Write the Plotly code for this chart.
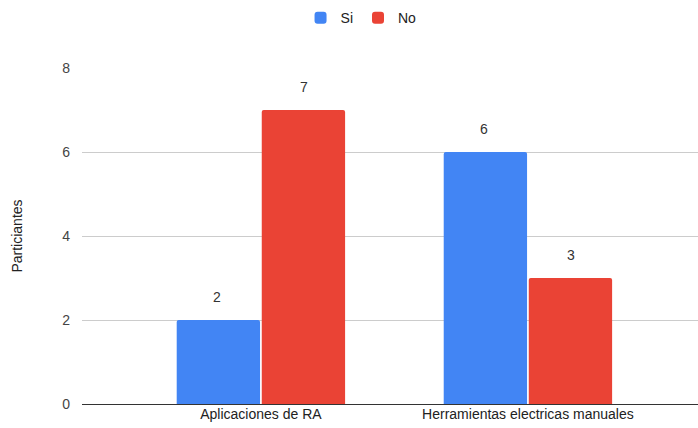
import plotly.graph_objects as go

categories = ["Aplicaciones de RA", "Herramientas electricas manuales"]
series_names = ["Si", "No"]
si_values = [2, 6]
no_values = [7, 3]
y_ticks = [0, 2, 4, 6, 8]

colors = {"Si": "#4285F4", "No": "#EA4335"}
font_family = "Arial, Liberation Sans, sans-serif"

fig = go.Figure()
for name, vals in zip(series_names, [si_values, no_values]):
    fig.add_trace(go.Bar(
        name=name, x=categories, y=vals,
        marker=dict(color=colors[name], line=dict(width=0), cornerradius=2),
    ))

# value labels above bars
offsets = {"Si": -43.5, "No": 43.5}
for name, vals in zip(series_names, [si_values, no_values]):
    for c, v in zip(categories, vals):
        fig.add_annotation(
            x=c, y=v, text=str(v), showarrow=False,
            xshift=offsets[name], yshift=23,
            font=dict(family=font_family, size=14, color="#333333"),
        )

fig.update_layout(
    width=698, height=428,
    margin=dict(l=82, r=0, t=68, b=24),
    paper_bgcolor="white", plot_bgcolor="white",
    barmode="group", bargap=0.363, bargroupgap=0.02,
    font=dict(family=font_family, size=14, color="#444444"),
    showlegend=True,
    legend=dict(orientation="h", x=0.453, xanchor="center",
                yref="container", y=0.995, yanchor="top",
                font=dict(size=14, color="#222222"), itemwidth=30),
    xaxis=dict(range=[-0.67, 1.637], showgrid=False, showline=False,
               tickfont=dict(size=14, color="#222222"), ticks=""),
    yaxis=dict(range=[0, 8], tickvals=y_ticks, showgrid=True, gridcolor="#CCCCCC",
               zeroline=True, zerolinecolor="#333333", zerolinewidth=1,
               tickfont=dict(size=14, color="#444444"), ticklabelstandoff=11,
               title=dict(text="Particiantes", font=dict(size=14, color="#222222"), standoff=36)),
)

fig.write_html("out.html")
